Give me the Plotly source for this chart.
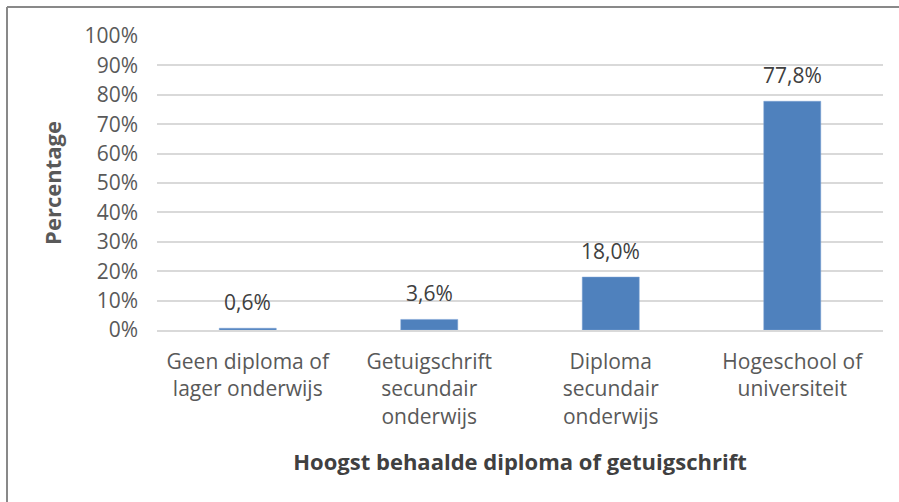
import plotly.graph_objects as go

categories = ["Geen diploma of<br>lager onderwijs",
              "Getuigschrift<br>secundair<br>onderwijs",
              "Diploma<br>secundair<br>onderwijs",
              "Hogeschool of<br>universiteit"]
values = [0.6, 3.6, 18.0, 77.8]
labels = [f"{v:.1f}".replace(".", ",") + "%" for v in values]
y_ticks = [0, 10, 20, 30, 40, 50, 60, 70, 80, 90, 100]
y_ticktext = [f"{t}%" for t in y_ticks]

FONT = "Open Sans"
GREY = "#595959"

fig = go.Figure()
fig.add_trace(go.Bar(
    x=categories, y=values,
    marker=dict(color="#4f81bd", line=dict(color="#7aa0d4", width=0.5)),
    width=0.314,
    hoverinfo="skip",
))

for c, v, t in zip(categories, values, labels):
    fig.add_annotation(x=c, y=v, text=t, showarrow=False,
                       yanchor="bottom", yshift=10,
                       font=dict(family=FONT, size=21, color="#404040"))

W, H = 899, 502
L, R, T, B = 157, 16, 36, 172
pw, ph = W - L - R, H - T - B

def px(x):
    return (x - L) / pw

def py(y):
    return (H - B - y) / ph

# chart border (top and left)
fig.add_shape(type="line", xref="paper", yref="paper",
              x0=px(7), x1=px(W + 5), y0=py(7), y1=py(7),
              line=dict(color="#898989", width=2))
fig.add_shape(type="line", xref="paper", yref="paper",
              x0=px(7), x1=px(7), y0=py(7), y1=py(H + 5),
              line=dict(color="#898989", width=2))

fig.update_layout(
    width=W, height=H,
    margin=dict(l=L, r=R, t=T, b=B),
    paper_bgcolor="white", plot_bgcolor="white",
    showlegend=False,
    font=dict(family=FONT, color=GREY, size=21),
    bargap=0.686,
)
fig.update_yaxes(
    range=[0, 100], tickvals=y_ticks, ticktext=y_ticktext,
    showgrid=True, gridcolor="#d9d9d9", gridwidth=1.5,
    zeroline=False, showline=False,
    ticks="", ticklabelstandoff=18,
    tickfont=dict(family=FONT, size=21, color=GREY),
    title=dict(text="<b>Percentage</b>", standoff=16,
               font=dict(family=FONT, size=22, color=GREY)),
    fixedrange=True,
)
fig.update_xaxes(
    showgrid=False, zeroline=False, showline=True,
    linecolor="#d9d9d9", linewidth=1.5,
    ticks="", ticklabelstandoff=12,
    tickfont=dict(family=FONT, size=21, color=GREY),
    title=dict(text="<b>Hoogst behaalde diploma of getuigschrift</b>", standoff=26,
               font=dict(family=FONT, size=22, color="#404040")),
    fixedrange=True,
)

fig.write_html("out.html",
               config={"displayModeBar": False},
               post_script="document.body.style.margin='0';document.body.style.overflow='hidden';")
